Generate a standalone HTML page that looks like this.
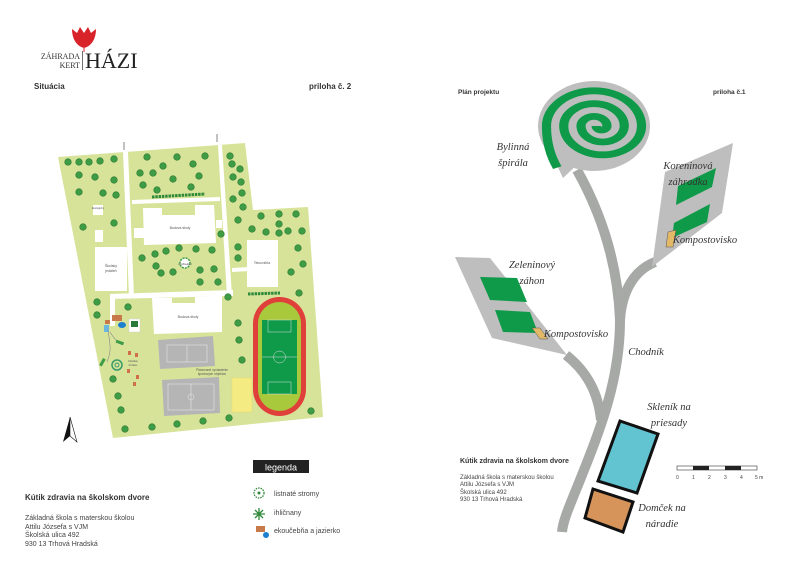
<!DOCTYPE html>
<html><head><meta charset="utf-8"><style>
html,body{margin:0;padding:0;background:#fff;width:800px;height:566px;overflow:hidden}
svg{display:block}
.s{font-family:"Liberation Sans",sans-serif}
.h{font-family:"Liberation Serif",serif;font-style:italic;fill:#333;font-size:10.5px;text-anchor:middle}
.t{fill:#3e9c45;stroke:#2d7a34;stroke-width:.6}
.w{fill:#fff}
</style></head><body>
<svg width="800" height="566" viewBox="0 0 800 566" xmlns="http://www.w3.org/2000/svg">
<!-- logo -->
<path d="M84,48 C76,46 72,38 72,29 L77,33 L80,27 L84,33 L88,27 L91,33 L96,29 C96,38 92,46 84,48 Z" fill="#d8232a"/>
<line x1="84" y1="48" x2="84" y2="52" stroke="#d8232a" stroke-width="1"/>
<text x="80" y="59" font-size="8" text-anchor="end" fill="#333" style="font-family:'Liberation Serif',serif">ZÁHRADA</text>
<text x="80" y="68" font-size="8" text-anchor="end" fill="#333" style="font-family:'Liberation Serif',serif">KERT</text>
<line x1="82.5" y1="51" x2="82.5" y2="70" stroke="#333" stroke-width=".7"/>
<text x="85" y="68" font-size="22" fill="#222" style="font-family:'Liberation Serif',serif">HÁZI</text>
<text x="34" y="89" class="s" font-size="8" font-weight="bold" fill="#333">Situácia</text>
<text x="309" y="89" class="s" font-size="8" font-weight="bold" fill="#333">priloha č. 2</text>

<!-- map ground -->
<polygon points="58,157 245,143 253,210 308,207 323,417 113,438" fill="#d8e39a"/>
<polygon points="123,152 128,152 134,297 129,297" fill="#fff"/>
<polygon points="218,145 222,145 232,296 227,296" fill="#fff"/>
<polygon points="132,200 220,197 220,201 132,204" fill="#fff"/>
<polygon points="110,294 233,290 233,296 110,299" fill="#fff"/>
<polygon points="232,268 250,267 250,271 232,272" fill="#fff"/>
<rect x="110" y="298" width="5" height="28" fill="#fff"/>
<polygon points="143,208 162,208 162,215 195,215 195,205 214,205 216,243 144,245" fill="#fff"/>
<text x="180" y="229" class="s" font-size="3.5" text-anchor="middle" fill="#555">Budova školy</text>
<rect x="134" y="228" width="10" height="10" fill="#fff"/>
<rect x="216" y="220" width="6" height="8" fill="#fff"/>
<rect x="247" y="240" width="31" height="47" fill="#fff"/>
<text x="262" y="264" class="s" font-size="3.5" text-anchor="middle" fill="#555">Telocvičňa</text>
<rect x="95" y="247" width="32" height="44" fill="#fff"/>
<text x="111" y="267" class="s" font-size="3.5" text-anchor="middle" fill="#555">Školský</text>
<text x="111" y="272" class="s" font-size="3.5" text-anchor="middle" fill="#555">jedáleň</text>
<rect x="93" y="205" width="10" height="10" fill="#fff"/>
<text x="98" y="209" class="s" font-size="2.5" text-anchor="middle" fill="#555">Ekologický</text>
<rect x="95" y="230" width="8" height="12" fill="#fff"/>
<polygon points="152,298 172,298 172,303 195,303 195,297 222,296 222,332 154,334" fill="#fff"/>
<text x="188" y="318" class="s" font-size="3.5" text-anchor="middle" fill="#555">Budova školy</text>
<circle cx="185" cy="263" r="5" fill="#fff" stroke="#3e9c45" stroke-width="1.5" stroke-dasharray="2 1"/>
<text x="185" y="265" class="s" font-size="3" text-anchor="middle" fill="#555">Amfiteáter</text>
<polygon points="158,340 213,336 215,366 160,369" fill="#b5b5b5"/>
<rect x="167" y="345" width="40" height="17" fill="none" stroke="#eee" stroke-width=".5"/>
<line x1="187" y1="345" x2="187" y2="362" stroke="#eee" stroke-width=".5"/>
<polygon points="162,380 219,377 220,413 164,416" fill="#b5b5b5"/>
<rect x="168" y="384" width="46" height="26" fill="none" stroke="#eee" stroke-width=".5"/>
<line x1="191" y1="384" x2="191" y2="410" stroke="#eee" stroke-width=".5"/>
<circle cx="191" cy="397" r="3" fill="none" stroke="#eee" stroke-width=".5"/>
<text x="212" y="371" class="s" font-size="3.2" text-anchor="middle" fill="#555">Plánované vyvlastenie</text>
<text x="212" y="375" class="s" font-size="3.2" text-anchor="middle" fill="#555">športových objektov</text>
<rect x="232" y="378" width="20" height="34" fill="#f4ec82" stroke="#e6d96a" stroke-width=".5"/>
<rect x="253" y="297" width="53" height="119" rx="26.5" fill="#e0403a"/>
<rect x="258" y="302" width="43" height="109" rx="21.5" fill="#a9c93c"/>
<rect x="262" y="320" width="35" height="74" fill="#0f9a4a"/>
<line x1="262" y1="357" x2="297" y2="357" stroke="#ddd" stroke-width=".5"/>
<circle cx="279.5" cy="357" r="6" fill="none" stroke="#ddd" stroke-width=".5"/>
<rect x="268" y="320" width="23" height="12" fill="none" stroke="#ddd" stroke-width=".5"/>
<rect x="268" y="382" width="23" height="12" fill="none" stroke="#ddd" stroke-width=".5"/>
<rect x="112" y="315" width="10" height="6" fill="#c87a4a"/>
<ellipse cx="122" cy="325" rx="4" ry="3" fill="#1c7fd0"/>
<rect x="105" y="320" width="5" height="4" fill="#c87a4a"/>
<rect x="104" y="325" width="5" height="7" fill="#6ab7e0"/>
<rect x="129" y="319" width="11" height="13" fill="#fff" stroke="#ccc" stroke-width=".4"/>
<rect x="131" y="321" width="7" height="6" fill="#2a7a3a"/>
<path d="M108,330 C110,345 112,350 107,362 M110,332 C115,340 118,342 122,345" stroke="#888" stroke-width=".6" fill="none"/>
<rect x="116" y="341" width="8" height="3" fill="#3e9c45" transform="rotate(20 120 342)"/>
<rect x="101" y="358" width="3" height="8" fill="#3e9c45" transform="rotate(30 102 362)"/>
<circle cx="117" cy="365" r="5" fill="none" stroke="#3a9a6a" stroke-width="1.5"/>
<circle cx="117" cy="365" r="2" fill="none" stroke="#3a9a6a" stroke-width="1"/>
<g fill="#d0704a"><rect x="128" y="351" width="3" height="4"/><rect x="135" y="353" width="3" height="4"/><rect x="127" y="369" width="3" height="4"/><rect x="136" y="375" width="3" height="4"/><rect x="133" y="382" width="3" height="4"/></g>
<text x="133" y="362" class="s" font-size="3" text-anchor="middle" fill="#555">Detské</text>
<text x="133" y="366" class="s" font-size="3" text-anchor="middle" fill="#555">ihrisko</text>
<line x1="152" y1="197" x2="205" y2="194" stroke="#2e8a3a" stroke-width="3" stroke-dasharray="2.5 .8"/>
<line x1="248" y1="294" x2="280" y2="293" stroke="#2e8a3a" stroke-width="3" stroke-dasharray="2.5 .8"/>
<g class="t">
<circle cx="68" cy="162" r="3.3"/><circle cx="79" cy="162" r="3.3"/><circle cx="89" cy="162" r="3.3"/><circle cx="100" cy="161" r="3.3"/><circle cx="114" cy="159" r="3.3"/>
<circle cx="79" cy="175" r="3.3"/><circle cx="95" cy="177" r="3.3"/><circle cx="114" cy="180" r="3.3"/>
<circle cx="79" cy="192" r="3.3"/><circle cx="103" cy="193" r="3.3"/><circle cx="116" cy="195" r="3.3"/>
<circle cx="83" cy="227" r="3.3"/><circle cx="114" cy="223" r="3.3"/>
<circle cx="147" cy="157" r="3.3"/><circle cx="177" cy="157" r="3.3"/><circle cx="205" cy="156" r="3.3"/><circle cx="163" cy="166" r="3.3"/><circle cx="193" cy="164" r="3.3"/>
<circle cx="140" cy="173" r="3.3"/><circle cx="153" cy="173" r="3.3"/><circle cx="173" cy="179" r="3.3"/><circle cx="199" cy="176" r="3.3"/><circle cx="143" cy="185" r="3.3"/><circle cx="157" cy="190" r="3.3"/><circle cx="191" cy="187" r="3.3"/>
<circle cx="230" cy="156" r="3.3"/><circle cx="232" cy="164" r="3.3"/><circle cx="240" cy="169" r="3.3"/><circle cx="233" cy="177" r="3.3"/><circle cx="241" cy="182" r="3.3"/><circle cx="242" cy="193" r="3.3"/><circle cx="233" cy="199" r="3.3"/><circle cx="243" cy="207" r="3.3"/><circle cx="238" cy="220" r="3.3"/><circle cx="221" cy="234" r="3.3"/><circle cx="238" cy="247" r="3.3"/><circle cx="238" cy="258" r="3.3"/>
<circle cx="261" cy="216" r="3.3"/><circle cx="279" cy="214" r="3.3"/><circle cx="296" cy="214" r="3.3"/><circle cx="252" cy="229" r="3.3"/><circle cx="266" cy="232" r="3.3"/><circle cx="279" cy="224" r="3.3"/><circle cx="279" cy="233" r="3.3"/><circle cx="288" cy="231" r="3.3"/><circle cx="302" cy="231" r="3.3"/><circle cx="298" cy="248" r="3.3"/><circle cx="303" cy="264" r="3.3"/><circle cx="291" cy="272" r="3.3"/>
<circle cx="142" cy="258" r="3.3"/><circle cx="155" cy="254" r="3.3"/><circle cx="166" cy="251" r="3.3"/><circle cx="179" cy="248" r="3.3"/><circle cx="196" cy="249" r="3.3"/><circle cx="212" cy="250" r="3.3"/><circle cx="156" cy="266" r="3.3"/><circle cx="161" cy="273" r="3.3"/><circle cx="173" cy="272" r="3.3"/><circle cx="200" cy="270" r="3.3"/><circle cx="214" cy="269" r="3.3"/><circle cx="200" cy="282" r="3.3"/><circle cx="218" cy="282" r="3.3"/>
<circle cx="97" cy="302" r="3.3"/><circle cx="97" cy="315" r="3.3"/><circle cx="128" cy="307" r="3.3"/><circle cx="228" cy="297" r="3.3"/><circle cx="238" cy="323" r="3.3"/><circle cx="239" cy="340" r="3.3"/><circle cx="242" cy="360" r="3.3"/><circle cx="299" cy="293" r="3.3"/><circle cx="311" cy="411" r="3.3"/>
<circle cx="113" cy="379" r="3.3"/><circle cx="118" cy="396" r="3.3"/><circle cx="121" cy="410" r="3.3"/><circle cx="125" cy="429" r="3.3"/><circle cx="152" cy="427" r="3.3"/><circle cx="177" cy="424" r="3.3"/><circle cx="203" cy="421" r="3.3"/><circle cx="229" cy="418" r="3.3"/>
</g>
<line x1="124" y1="142" x2="124" y2="150" stroke="#666" stroke-width=".8"/>
<line x1="217" y1="134" x2="217" y2="142" stroke="#666" stroke-width=".8"/>
<polygon points="70,417 63,442 70,436" fill="#111"/>
<polygon points="70,417 77,442 70,436" fill="#fff" stroke="#111" stroke-width=".6"/>
<rect x="253" y="460" width="56" height="13" fill="#222"/>
<text x="281" y="470.5" class="s" font-size="9" text-anchor="middle" fill="#fff">legenda</text>
<circle cx="259" cy="493" r="5" fill="none" stroke="#2e8a3a" stroke-width="1.3" stroke-dasharray="1.5 1"/>
<circle cx="259" cy="493" r="1.5" fill="#2e8a3a"/>
<text x="274" y="496" class="s" font-size="7" fill="#444">listnaté stromy</text>
<path d="M259,508 v12 M253,514 h12 M255,510 l8,8 M263,510 l-8,8" stroke="#2e8a3a" stroke-width="1.3"/>
<text x="274" y="515" class="s" font-size="7" fill="#444">ihličnany</text>
<rect x="256" y="526" width="9" height="6" fill="#c87a4a"/>
<circle cx="266" cy="535" r="3" fill="#1c7fd0"/>
<text x="274" y="533" class="s" font-size="7" fill="#444">ekoučebňa a jazierko</text>
<text x="25" y="500" class="s" font-size="8" font-weight="bold" fill="#333">Kútik zdravia na školskom dvore</text>
<g class="s" font-size="7" fill="#444">
<text x="25" y="520">Základná škola s materskou školou</text>
<text x="25" y="529">Attilu Józsefa s VJM</text>
<text x="25" y="537">Školská ulica 492</text>
<text x="25" y="546">930 13 Trhová Hradská</text>
</g>

<!-- RIGHT -->
<text x="458" y="94" class="s" font-size="6.5" font-weight="bold" fill="#333">Plán projektu</text>
<text x="713" y="94" class="s" font-size="6.5" font-weight="bold" fill="#333">priloha č.1</text>
<g fill="none" stroke="#a7a9a7" stroke-width="10">
<path d="M577,170 C605,220 618,270 620,320 C620,380 600,430 580,480 C570,505 563,520 562,532"/>
<path d="M620,320 C622,290 635,270 655,262"/>
<path d="M566,355 C585,370 598,390 601,420"/>
</g>
<ellipse cx="594" cy="126" rx="56" ry="45" fill="#bebebe"/>
<polygon points="545,140 582,160 563,178" fill="#bebebe"/>
<g transform="translate(594,126) scale(1.08,0.8) translate(-594,-126)">
<path d="M560,178 Q550,155 550,126 A44,44 0 0,1 638,126 A36,36 0 0,1 566,126 A28,28 0 0,1 622,126 A20,20 0 0,1 582,126 A12,12 0 0,1 606,126 A5,5 0 0,1 596,126" fill="none" stroke="#0e9a48" stroke-width="8.5"/>
</g>
<polygon points="665,172 733,143 722,213 652,267" fill="#bebebe"/>
<polygon points="678,186 716,168 712,187 676,205" fill="#0e9a48"/>
<polygon points="674,223 710,204 707,222 672,238" fill="#0e9a48"/>
<polygon points="668,232 676,230 673,247 666,247" fill="#e3b866" stroke="#555" stroke-width=".5"/>
<polygon points="455,257 490,258 567,355 492,338" fill="#bebebe"/>
<polygon points="480,277 517,278 527,302 490,300" fill="#0e9a48"/>
<polygon points="495,310 530,312 538,333 503,332" fill="#0e9a48"/>
<polygon points="532,328 540,328 548,339 540,339" fill="#e3b866" stroke="#555" stroke-width=".5"/>
<polygon points="620,421 658,434 637,493 598,481" fill="#62c3d1" stroke="#111" stroke-width="3"/>
<polygon points="593,489 633,502 623,532 585,518" fill="#d6945a" stroke="#111" stroke-width="3"/>
<text x="513" y="150" class="h">Bylinná</text>
<text x="513" y="166" class="h">špirála</text>
<text x="688" y="169" class="h">Koreninová</text>
<text x="688" y="185" class="h">záhradka</text>
<text x="705" y="243" class="h">Kompostovisko</text>
<text x="532" y="268" class="h">Zeleninový</text>
<text x="532" y="284" class="h">záhon</text>
<text x="576" y="337" class="h">Kompostovisko</text>
<text x="646" y="355" class="h">Chodník</text>
<text x="669" y="410" class="h">Skleník na</text>
<text x="669" y="426" class="h">priesady</text>
<text x="662" y="511" class="h">Domček na</text>
<text x="662" y="527" class="h">náradie</text>
<text x="460" y="463" class="s" font-size="7" font-weight="bold" fill="#333">Kútik zdravia na školskom dvore</text>
<g class="s" font-size="6" fill="#444">
<text x="460" y="479">Základná škola s materskou školou</text>
<text x="460" y="486">Attilu Józsefa s VJM</text>
<text x="460" y="494">Školská ulica 492</text>
<text x="460" y="501">930 13 Trhová Hradská</text>
</g>
<rect x="677" y="466" width="80" height="4" fill="#fff" stroke="#333" stroke-width=".6"/>
<rect x="693" y="466" width="16" height="4" fill="#222"/>
<rect x="725" y="466" width="16" height="4" fill="#222"/>
<g class="s" font-size="5" fill="#444"><text x="676" y="479">0</text><text x="692" y="479">1</text><text x="708" y="479">2</text><text x="724" y="479">3</text><text x="740" y="479">4</text><text x="755" y="479">5 m</text></g>
</svg>
</body></html>
